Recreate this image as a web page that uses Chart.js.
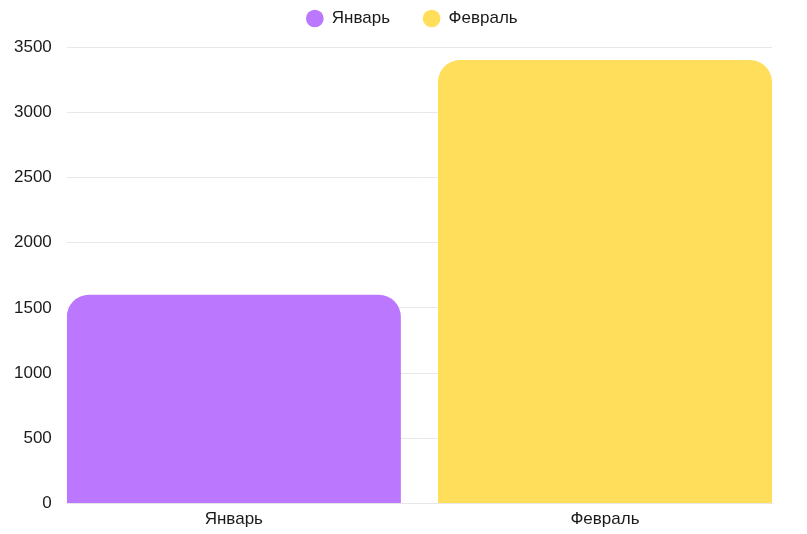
<!DOCTYPE html>
<html>
<head>
<meta charset="utf-8">
<script src="https://cdn.jsdelivr.net/npm/chart.js@4"></script>
<style>
html,body{margin:0;padding:0;background:#fff;}
#wrap{width:807px;height:534px;}
</style>
</head>
<body>
<div id="wrap"><canvas id="c" width="807" height="534"></canvas></div>
<script>
const categories = ["Январь", "Февраль"];
const values = [1600, 3400];
const colors = ["#bb77fe", "#ffde5c"];
const yTicks = [0, 500, 1000, 1500, 2000, 2500, 3000, 3500];

const FONT = "'Liberation Sans', Arial, sans-serif";

const layoutTweaks = {
  id: 'layoutTweaks',
  beforeInit(chart) {
    const lg = chart.legend;
    if (!lg) return;
    const orig = lg.fit;
    lg.fit = function () { orig.call(this); this.height = 70; };
  },
  afterLayout(chart) {
    const lg = chart.legend;
    if (lg) { lg.left = 52; lg.right = chart.chartArea.right; }
  }
};

new Chart(document.getElementById('c'), {
  type: 'bar',
  data: {
    datasets: [{
      label: 'values',
      data: values.map((v, i) => ({x: i, y: v})),
      backgroundColor: colors,
      borderRadius: 22,
      barPercentage: 0.9,
      categoryPercentage: 1
    }]
  },
  plugins: [layoutTweaks],
  options: {
    responsive: false,
    animation: false,
    layout: {padding: {left: -1, right: 35, top: -23, bottom: -2}},
    plugins: {
      legend: {
        position: 'top',
        labels: {
          usePointStyle: true, pointStyle: 'circle', boxWidth: 17, boxHeight: 12.5,
          color: '#1a1a1a', font: {family: FONT, size: 17}, padding: 33,
          generateLabels: () => categories.map((c, i) => ({
            text: c, fillStyle: colors[i], strokeStyle: colors[i], lineWidth: 0,
            pointStyle: 'circle', hidden: false, index: i, fontColor: '#1a1a1a'
          }))
        },
        onClick: () => {}
      },
      tooltip: {enabled: false}
    },
    scales: {
      x: {
        type: 'linear',
        offset: false,
        min: -0.45,
        max: 1.45,
        grid: {display: false, drawTicks: false},
        border: {display: true, color: '#e6e6e6'},
        ticks: {
          stepSize: 1, includeBounds: false, autoSkip: false, maxRotation: 0,
          color: '#1a1a1a', font: {family: FONT, size: 17}, padding: 6,
          callback: (v) => (Number.isInteger(v) && categories[v] !== undefined) ? categories[v] : ''
        }
      },
      y: {
        beginAtZero: true,
        min: yTicks[0],
        max: yTicks[yTicks.length - 1],
        grid: {color: '#e8e8e8', drawTicks: false},
        border: {display: false},
        afterBuildTicks: (axis) => { axis.ticks = yTicks.map(v => ({value: v})); },
        ticks: {color: '#1a1a1a', font: {family: FONT, size: 17}, padding: 15,
          callback: (v) => String(v)}
      }
    }
  }
});
</script>
</body>
</html>
